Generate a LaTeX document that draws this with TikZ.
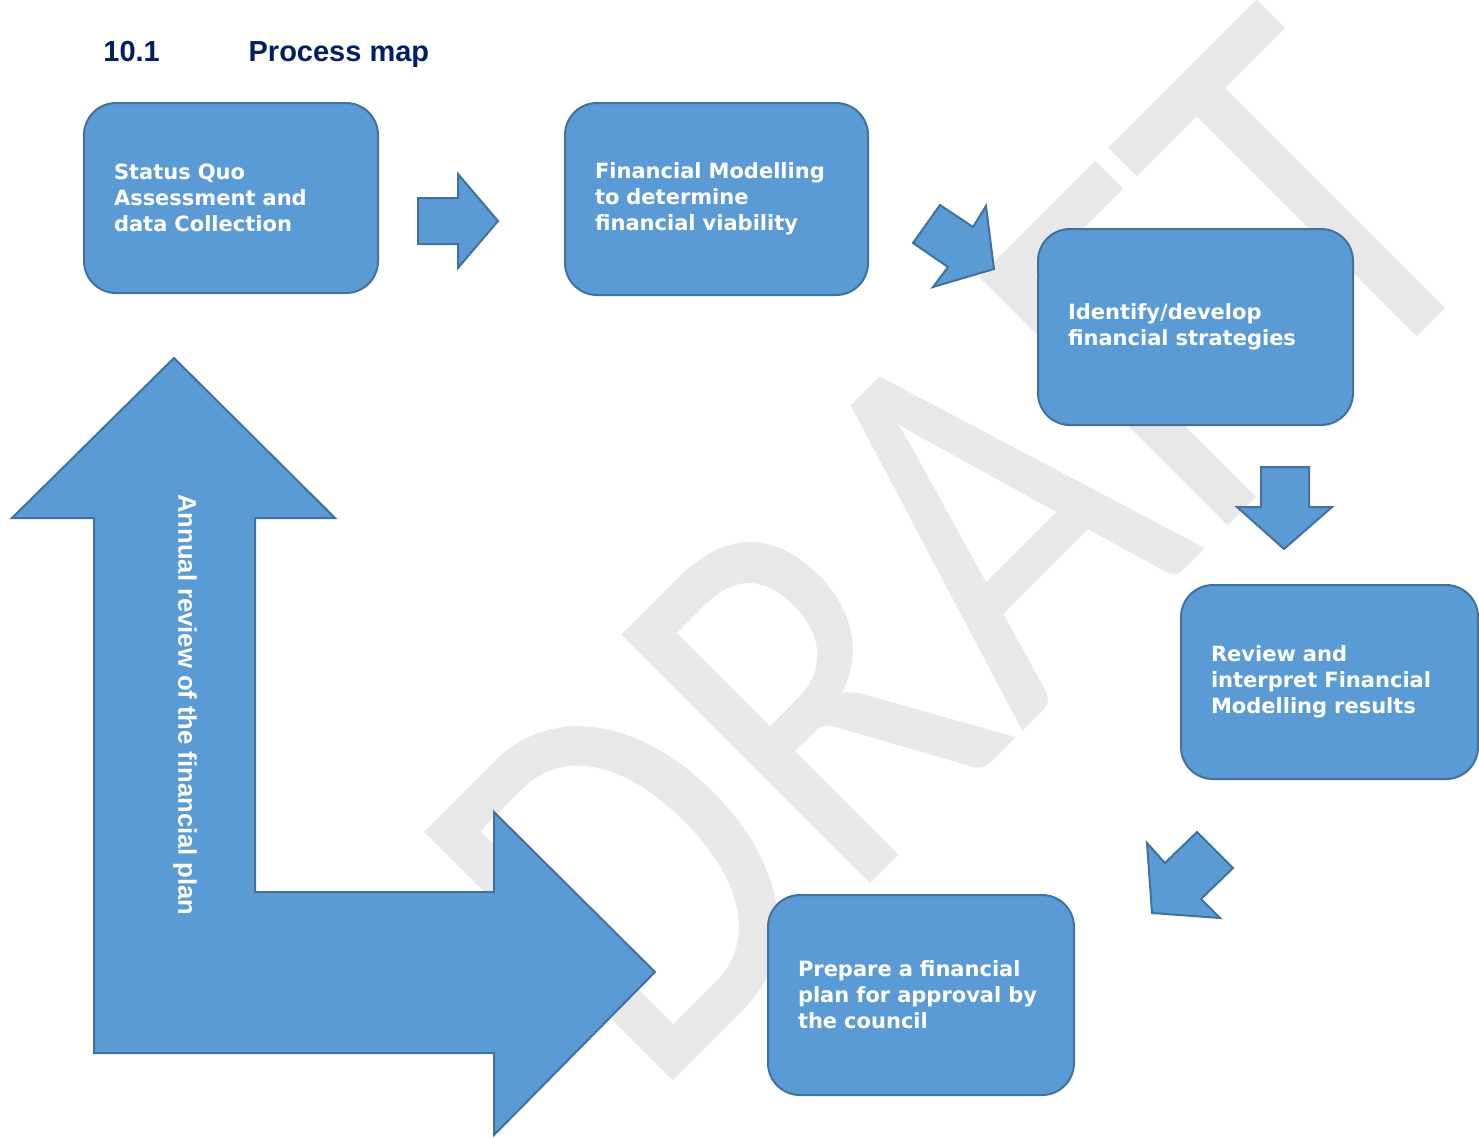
\documentclass[tikz,border=0pt]{standalone}
\usepackage{fontspec}
\setmainfont{Liberation Sans}
\newfontfamily\boxfont{DejaVu Sans}
\newfontfamily\wmfont{Carlito}
\usetikzlibrary{positioning}

\definecolor{boxfill}{HTML}{5B9BD5}
\definecolor{boxline}{HTML}{41719C}
\definecolor{headblue}{HTML}{002060}
\definecolor{wmgray}{HTML}{E8E8E8}

\tikzset{
  procbox/.style={rectangle, rounded corners=16pt, draw=boxline, fill=boxfill,
    line width=1pt, text=white, align=left, inner xsep=15pt, inner ysep=0pt,
    font=\boxfont\bfseries\fontsize{10.5}{13}\selectfont},
  blockarrow/.style={draw=boxline, fill=boxfill, line width=1pt},
  heading/.style={text=headblue, inner sep=0pt, font=\bfseries\fontsize{14.5}{17}\selectfont},
}

\begin{document}
\begin{tikzpicture}[x=0.5pt, y=-0.5pt]
  \useasboundingbox (0,0) rectangle (1479,1137);

  % Watermark behind everything
  \node[text=wmgray, rotate=45, anchor=base west, inner sep=0pt,
    font=\wmfont\fontsize{274}{274}\selectfont] (draft) at (651,1103) {\scalebox{0.825}[1]{DRAFT}};

  % Section heading
  \node[heading, anchor=base west] (secnum) at (103,61) {10.1};
  \node[heading, base right=44pt of secnum] (sectitle) {Process map};

  % Process steps
  \node[procbox, text width=117pt, minimum height=95pt] (status) at (231,198)
    {Status Quo\\Assessment and\\data Collection};
  \node[procbox, text width=121.5pt, minimum height=96pt] (model) at (716.5,199)
    {Financial Modelling\\to determine\\financial viability};
  \node[procbox, text width=127.5pt, minimum height=98pt] (strat) at (1195.5,327)
    {Identify/develop\\financial strategies};
  \node[procbox, text width=118.5pt, minimum height=97pt] (results) at (1329.5,682)
    {Review and\\interpret Financial\\Modelling results};
  \node[procbox, text width=123pt, minimum height=100pt] (prepare) at (921,995)
    {Prepare a financial\\plan for approval by\\the council};

  % Block arrows between the steps
  \draw[blockarrow] (418,198) -- (458,198) -- (458,174) -- (498,221) -- (458,268) -- (458,244) -- (418,244) -- cycle;
  \draw[blockarrow] (913,243) -- (940,205) -- (973,227) -- (986,206) -- (994,269) -- (933,287) -- (948,267) -- cycle;
  \draw[blockarrow] (1261,467) -- (1309,467) -- (1309,507) -- (1332,507) -- (1284,549) -- (1237,507) -- (1261,507) -- cycle;
  \draw[blockarrow] (1147,843) -- (1165,863) -- (1197,832) -- (1233,868) -- (1201,899) -- (1220,918) -- (1152,913) -- cycle;

  % Feedback arrow (annual review)
  \draw[blockarrow] (174,358) -- (335,518) -- (255,518) -- (255,892) -- (494,892) -- (494,812) -- (655,972)
    -- (494,1135) -- (494,1053) -- (94,1053) -- (94,518) -- (12,518) -- cycle;
  \node[text=white, rotate=-90, inner sep=0pt, font=\bfseries\fontsize{12.8}{15}\selectfont] (review) at (185,705)
    {Annual review of the financial plan};
\end{tikzpicture}
\end{document}
